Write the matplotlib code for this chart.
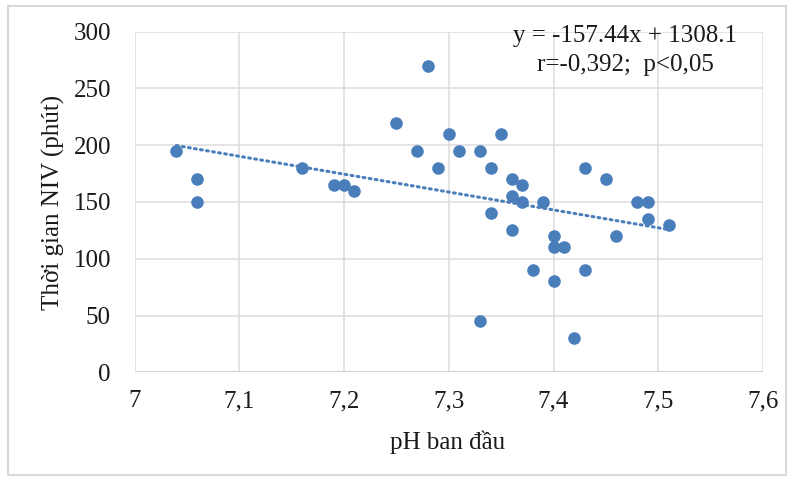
import matplotlib
matplotlib.use("Agg")
import matplotlib.pyplot as plt
import numpy as np
from matplotlib.patches import Rectangle

ph = [7.04, 7.06, 7.06, 7.16, 7.19, 7.20, 7.21, 7.25, 7.28, 7.27,
      7.29, 7.30, 7.31, 7.33, 7.33, 7.34, 7.34, 7.35, 7.36, 7.36,
      7.36, 7.37, 7.37, 7.38, 7.39, 7.40, 7.40, 7.41, 7.40, 7.42,
      7.43, 7.43, 7.45, 7.46, 7.48, 7.49, 7.49, 7.51]
niv = [195, 170, 150, 180, 165, 165, 160, 220, 270, 195,
       180, 210, 195, 195, 45, 180, 140, 210, 170, 155,
       125, 165, 150, 90, 150, 120, 110, 110, 80, 30,
       180, 90, 170, 120, 150, 150, 135, 130]

slope = -157.44
intercept = 1308.1
eq_line1 = "y = -157.44x + 1308.1"
eq_line2 = "r=-0,392;  p<0,05"

x_ticks = [7.0, 7.1, 7.2, 7.3, 7.4, 7.5, 7.6]
x_ticklabels = ["7", "7,1", "7,2", "7,3", "7,4", "7,5", "7,6"]
y_ticks = [0, 50, 100, 150, 200, 250, 300]
x_label = "pH ban đầu"
y_label = "Thời gian NIV (phút)"

plt.rcParams['font.family'] = ['Liberation Serif', 'DejaVu Serif']

W, H = 790, 478
fig = plt.figure(figsize=(W / 100, H / 100), dpi=100)
ax = fig.add_axes([134.5 / W, 1 - 372.3 / H, (763 - 134.5) / W, (372.3 - 31.7) / H])

blue = "#4a7ebb"
ax.scatter(ph, niv, s=82, color=blue, zorder=3, linewidths=0)
xs = np.array([min(ph), max(ph)])
ax.plot(xs, slope * xs + intercept, color=blue, lw=2.2, ls=(0, (0.6, 1.4)),
        dash_capstyle='round', zorder=2)

ax.set_xlim(7.0, 7.6)
ax.set_ylim(0, 300)
ax.set_xticks(x_ticks)
ax.set_xticklabels(x_ticklabels)
ax.set_yticks(y_ticks)
ax.grid(True, color="#dcdcdc", lw=1.1, zorder=0)
ax.set_axisbelow(True)
for s in ax.spines.values():
    s.set_visible(False)
ax.axhline(0, color="#d0d0d0", lw=1.4, zorder=1)
ax.tick_params(length=0, labelsize=18, colors="#1a1a1a")
ax.tick_params(axis='y', pad=17)
ax.tick_params(axis='x', pad=13)

fig.text(448 / W, 1 - 442 / H, x_label, ha='center', va='center', fontsize=18, color="#1a1a1a")
fig.text(53 / W, 1 - 202 / H, y_label, ha='center', va='center', rotation=90, fontsize=18, color="#1a1a1a")
fig.text(625 / W, 1 - 36 / H, eq_line1, ha='center', va='center', fontsize=18, color="#1a1a1a")
fig.text(625 / W, 1 - 65 / H, eq_line2, ha='center', va='center', fontsize=18, color="#1a1a1a")

fig.patches.append(Rectangle((8 / W, 1 - 475 / H), 778 / W, 469 / H, transform=fig.transFigure,
                             fill=False, edgecolor="#d9d9d9", lw=1.5))

fig.savefig("out.png", dpi=100)
